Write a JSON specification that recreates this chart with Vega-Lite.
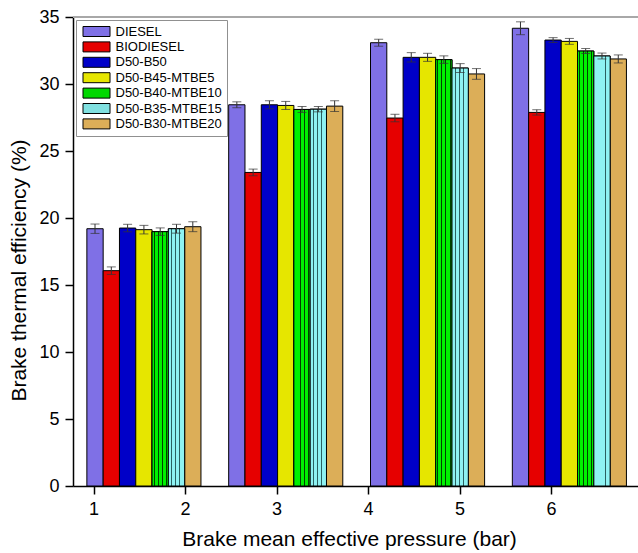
{
  "$schema": "https://vega.github.io/schema/vega-lite/v6.json",
  "width": 565,
  "height": 469,
  "autosize": {"type": "none"},
  "padding": {"left": 73, "top": 17, "right": 0, "bottom": 67},
  "background": "white",
  "config": {
    "view": {"stroke": null},
    "font": "Liberation Sans",
    "axis": {"domainColor": "black", "domainWidth": 1.5, "tickColor": "black", "tickWidth": 1.5, "labelColor": "black", "titleColor": "black", "grid": false, "labelFont": "Liberation Sans", "titleFont": "Liberation Sans", "titleFontWeight": "normal", "labelFontSize": 18, "titleFontSize": 21}
  },
  "data": {"values": [
    {"bmep": 1.55, "fuel": "DIESEL", "bte": 19.2, "err": 0.35},
    {"bmep": 1.55, "fuel": "BIODIESEL", "bte": 16.07, "err": 0.28},
    {"bmep": 1.55, "fuel": "D50-B50", "bte": 19.25, "err": 0.28},
    {"bmep": 1.55, "fuel": "D50-B45-MTBE5", "bte": 19.13, "err": 0.32},
    {"bmep": 1.55, "fuel": "D50-B40-MTBE10", "bte": 18.98, "err": 0.28},
    {"bmep": 1.55, "fuel": "D50-B35-MTBE15", "bte": 19.2, "err": 0.33},
    {"bmep": 1.55, "fuel": "D50-B30-MTBE20", "bte": 19.35, "err": 0.37},
    {"bmep": 3.1, "fuel": "DIESEL", "bte": 28.45, "err": 0.22},
    {"bmep": 3.1, "fuel": "BIODIESEL", "bte": 23.4, "err": 0.25},
    {"bmep": 3.1, "fuel": "D50-B50", "bte": 28.45, "err": 0.3},
    {"bmep": 3.1, "fuel": "D50-B45-MTBE5", "bte": 28.4, "err": 0.3},
    {"bmep": 3.1, "fuel": "D50-B40-MTBE10", "bte": 28.1, "err": 0.22},
    {"bmep": 3.1, "fuel": "D50-B35-MTBE15", "bte": 28.12, "err": 0.2},
    {"bmep": 3.1, "fuel": "D50-B30-MTBE20", "bte": 28.35, "err": 0.4},
    {"bmep": 4.65, "fuel": "DIESEL", "bte": 33.08, "err": 0.26},
    {"bmep": 4.65, "fuel": "BIODIESEL", "bte": 27.46, "err": 0.28},
    {"bmep": 4.65, "fuel": "D50-B50", "bte": 31.99, "err": 0.35},
    {"bmep": 4.65, "fuel": "D50-B45-MTBE5", "bte": 31.99, "err": 0.3},
    {"bmep": 4.65, "fuel": "D50-B40-MTBE10", "bte": 31.82, "err": 0.28},
    {"bmep": 4.65, "fuel": "D50-B35-MTBE15", "bte": 31.19, "err": 0.33},
    {"bmep": 4.65, "fuel": "D50-B30-MTBE20", "bte": 30.75, "err": 0.4},
    {"bmep": 6.2, "fuel": "DIESEL", "bte": 34.16, "err": 0.48},
    {"bmep": 6.2, "fuel": "BIODIESEL", "bte": 27.88, "err": 0.2},
    {"bmep": 6.2, "fuel": "D50-B50", "bte": 33.28, "err": 0.18},
    {"bmep": 6.2, "fuel": "D50-B45-MTBE5", "bte": 33.18, "err": 0.22},
    {"bmep": 6.2, "fuel": "D50-B40-MTBE10", "bte": 32.46, "err": 0.18},
    {"bmep": 6.2, "fuel": "D50-B35-MTBE15", "bte": 32.09, "err": 0.22},
    {"bmep": 6.2, "fuel": "D50-B30-MTBE20", "bte": 31.87, "err": 0.3}
  ]},
  "resolve": {"scale": {"x": "independent"}},
  "layer": [
    {
      "mark": {"type": "rule", "color": "#a8a8a8", "strokeWidth": 1.5},
      "encoding": {
        "x": {"datum": 0.775, "type": "quantitative",
          "scale": {"domain": [0.775, 6.95], "nice": false, "zero": false},
          "axis": {"orient": "bottom", "title": "Brake mean effective pressure (bar)", "values": [1, 1.5, 2, 2.5, 3, 3.5, 4, 4.5, 5, 5.5, 6, 6.5],
            "format": "d",
            "labelExpr": "datum.value % 1 === 0 ? datum.label : ''",
            "tickSize": {"condition": {"test": "datum.value % 1 === 0", "value": 8}, "value": 5},
            "labelPadding": 6, "titlePadding": 10, "titleX": 276}},
        "x2": {"datum": 6.95},
        "y": {"datum": 35, "type": "quantitative"}
      }
    },
    {
      "encoding": {
        "x": {"field": "bmep", "type": "ordinal",
          "scale": {"range": [13.86, 553.43], "paddingInner": 0.1955, "paddingOuter": 0},
          "axis": null},
        "xOffset": {"field": "fuel", "type": "nominal",
          "sort": ["DIESEL", "BIODIESEL", "D50-B50", "D50-B45-MTBE5", "D50-B40-MTBE10", "D50-B35-MTBE15", "D50-B30-MTBE20"],
          "scale": {"paddingInner": 0, "paddingOuter": 0}}
      },
      "layer": [
        {
          "mark": {"type": "bar", "stroke": "black", "strokeWidth": 1},
          "encoding": {
            "y": {"field": "bte", "type": "quantitative",
              "scale": {"domain": [0, 35], "nice": false},
              "axis": {"title": "Brake thermal efficiency (%)", "values": [0, 2.5, 5, 7.5, 10, 12.5, 15, 17.5, 20, 22.5, 25, 27.5, 30, 32.5, 35],
                "labelExpr": "datum.value % 5 === 0 ? datum.label : ''",
                "tickSize": {"condition": {"test": "datum.value % 5 === 0", "value": 8}, "value": 5},
                "labelPadding": 6, "titlePadding": 9, "titleY": 253}},
            "fill": {"field": "fuel", "type": "nominal",
              "scale": {"domain": ["DIESEL", "BIODIESEL", "D50-B50", "D50-B45-MTBE5", "D50-B40-MTBE10", "D50-B35-MTBE15", "D50-B30-MTBE20"],
                "range": ["#7f70e6", "#e60000", "#0000c8", "#e6e600", "#00d800", "#80e0e0", "#dcae58"]},
              "legend": {"title": null, "orient": "none", "legendX": 3, "legendY": 3,
                "fillColor": "white", "strokeColor": "#909090", "padding": 5,
                "symbolType": "M-2.7,-1H2.7V1H-2.7Z", "symbolSize": 100, "symbolStrokeColor": "black", "symbolStrokeWidth": 1, "symbolOpacity": 1, "symbolOffset": 9,
                "labelFontSize": 13, "labelColor": "black", "labelFont": "Liberation Sans", "rowPadding": 0.4, "labelOffset": 12.5}}
          }
        },
        {
          "transform": [{"filter": "datum.fuel === 'D50-B40-MTBE10'"}],
          "mark": {"type": "bar", "stroke": "black", "strokeWidth": 1,
            "fill": {"gradient": "linear", "x1": 0, "y1": 0, "x2": 1, "y2": 0, "stops": [
              {"offset": 0, "color": "#00f000"}, {"offset": 0.1, "color": "#00f000"}, {"offset": 0.1, "color": "#004000"}, {"offset": 0.16, "color": "#004000"},
              {"offset": 0.16, "color": "#00f000"}, {"offset": 0.35, "color": "#00f000"}, {"offset": 0.35, "color": "#004000"}, {"offset": 0.41, "color": "#004000"},
              {"offset": 0.41, "color": "#00f000"}, {"offset": 0.6, "color": "#00f000"}, {"offset": 0.6, "color": "#004000"}, {"offset": 0.66, "color": "#004000"},
              {"offset": 0.66, "color": "#00f000"}, {"offset": 0.85, "color": "#00f000"}, {"offset": 0.85, "color": "#004000"}, {"offset": 0.91, "color": "#004000"},
              {"offset": 0.91, "color": "#00f000"}, {"offset": 1, "color": "#00f000"}]}},
          "encoding": {
            "y": {"field": "bte", "type": "quantitative"}
          }
        },
        {
          "transform": [{"filter": "datum.fuel === 'D50-B35-MTBE15'"}],
          "mark": {"type": "bar", "stroke": "black", "strokeWidth": 1,
            "fill": {"gradient": "linear", "x1": 0, "y1": 0, "x2": 1, "y2": 0, "stops": [
              {"offset": 0, "color": "#8ef2f2"}, {"offset": 0.17, "color": "#8ef2f2"}, {"offset": 0.17, "color": "#2a6060"}, {"offset": 0.22, "color": "#2a6060"},
              {"offset": 0.22, "color": "#8ef2f2"}, {"offset": 0.42, "color": "#8ef2f2"}, {"offset": 0.42, "color": "#2a6060"}, {"offset": 0.47, "color": "#2a6060"},
              {"offset": 0.47, "color": "#8ef2f2"}, {"offset": 0.67, "color": "#8ef2f2"}, {"offset": 0.67, "color": "#2a6060"}, {"offset": 0.72, "color": "#2a6060"},
              {"offset": 0.72, "color": "#8ef2f2"}, {"offset": 1, "color": "#8ef2f2"}]}},
          "encoding": {
            "y": {"field": "bte", "type": "quantitative"}
          }
        },
        {
          "mark": {"type": "errorbar", "ticks": {"size": 9, "color": "#333"}, "rule": {"color": "#333", "strokeWidth": 1}},
          "encoding": {
            "y": {"field": "bte", "type": "quantitative", "title": "Brake thermal efficiency (%)"},
            "yError": {"field": "err"}
          }
        }
      ]
    }
  ]
}
